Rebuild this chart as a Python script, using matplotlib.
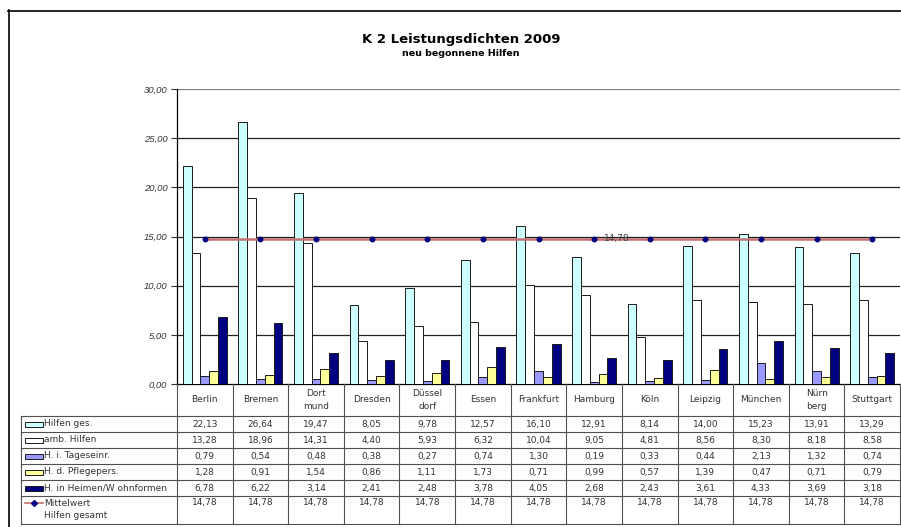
import matplotlib
matplotlib.use("Agg")
import matplotlib.pyplot as plt
import matplotlib.transforms as mtransforms
from matplotlib.patches import Rectangle
from matplotlib.lines import Line2D

# ---------------- data ----------------
categories = ["Berlin", "Bremen", "Dort\nmund", "Dresden", "Düssel\ndorf", "Essen",
              "Frankfurt", "Hamburg", "Köln", "Leipzig", "München", "Nürn\nberg", "Stuttgart"]
hilfen_ges = [22.13, 26.64, 19.47, 8.05, 9.78, 12.57, 16.10, 12.91, 8.14, 14.00, 15.23, 13.91, 13.29]
amb_hilfen = [13.28, 18.96, 14.31, 4.40, 5.93, 6.32, 10.04, 9.05, 4.81, 8.56, 8.30, 8.18, 8.58]
tageseinr = [0.79, 0.54, 0.48, 0.38, 0.27, 0.74, 1.30, 0.19, 0.33, 0.44, 2.13, 1.32, 0.74]
pflegepers = [1.28, 0.91, 1.54, 0.86, 1.11, 1.73, 0.71, 0.99, 0.57, 1.39, 0.47, 0.71, 0.79]
heime = [6.78, 6.22, 3.14, 2.41, 2.48, 3.78, 4.05, 2.68, 2.43, 3.61, 4.33, 3.69, 3.18]
mittelwert = [14.78, 14.78, 14.78, 14.78, 14.78, 14.78, 14.78, 14.78, 14.78, 14.78, 14.78, 14.78, 14.78]

series_names = ["Hilfen ges.", "amb. Hilfen", "H. i. Tageseinr.", "H. d. Pflegepers.",
                "H. in Heimen/W ohnformen"]
series_values = [hilfen_ges, amb_hilfen, tageseinr, pflegepers, heime]
series_colors = ["#CCFFFF", "#FFFFFF", "#9999FF", "#FFFF99", "#000080"]
mean_name = ["Mittelwert", "Hilfen gesamt"]
yticks = [0, 5, 10, 15, 20, 25, 30]
title = "K 2 Leistungsdichten 2009"
subtitle = "neu begonnene Hilfen"

W, H = 901, 527
fig = plt.figure(figsize=(W / 100, H / 100), dpi=100)
fig.patch.set_facecolor("white")

def fmt(v):
    return f"{v:.2f}".replace(".", ",")

# ---------------- plot area ----------------
px_left, px_right, px_top, px_bottom = 177, 900, 89, 384
ax = fig.add_axes([px_left / W, 1 - px_bottom / H, (px_right - px_left) / W,
                   (px_bottom - px_top) / H])
n = len(categories)
ax.set_xlim(0, n)
ax.set_ylim(0, 30)

bw = 1 / 6.3
gap = (1 - 5 * bw) / 2
for k, (vals, col) in enumerate(zip(series_values, series_colors)):
    xs = [i + gap + k * bw for i in range(n)]
    ax.bar(xs, vals, width=bw, align="edge", color=col, edgecolor="#1a1a1a",
           linewidth=0.7, zorder=3)

centers = [i + 0.5 for i in range(n)]
ax.plot(centers, mittelwert, color="#C87070", linewidth=1.8, zorder=4)
ax.plot(centers, mittelwert, linestyle="none", marker="o", markersize=3.2,
        color="#000080", zorder=5)
ax.text(centers[7] + 0.17, mittelwert[7], fmt(mittelwert[7]), fontsize=6.5,
        color="#404040", va="center", ha="left", zorder=6,
        family="DejaVu Sans")

for y in yticks[1:]:
    ax.axhline(y, color="#808080" if y == 30 else "#202020", linewidth=0.9, zorder=1)

ax.set_yticks(yticks)
ax.set_yticklabels([fmt(v) for v in yticks], fontsize=6.8, style="italic",
                   color="#333333", family="Liberation Sans")
ax.tick_params(axis="y", length=4, width=0.8, color="#333333", pad=3)
ax.set_xticks([])
for s in ["top", "right"]:
    ax.spines[s].set_visible(False)
ax.spines["left"].set_color("#000000")
ax.spines["bottom"].set_color("#000000")
ax.spines["left"].set_linewidth(0.9)
ax.spines["bottom"].set_linewidth(0.9)
ax.set_facecolor("none")

# ---------------- overlay (title, table, frame) ----------------
ov = fig.add_axes([0, 0, 1, 1])
ov.set_xlim(0, W)
ov.set_ylim(H, 0)
ov.axis("off")
ov.patch.set_visible(False)

# outer frame
ov.add_line(Line2D([8.5, 8.5], [10, H], color="black", linewidth=1.2))
ov.add_line(Line2D([8, W], [10.5, 10.5], color="black", linewidth=1.2))

ov.text(461, 39, title, fontsize=9.5, fontweight="bold", ha="center", va="center",
        family="DejaVu Sans", color="black")
ov.text(461, 54, subtitle, fontsize=6.8, fontweight="bold", ha="center", va="center",
        family="DejaVu Sans", color="black")

blend = mtransforms.blended_transform_factory(ax.transData, ov.transData)
lc = "#505050"
row_lines = [416, 432, 448, 464, 480, 496, 524]
tbl_left = 21
# horizontal table lines
for y in row_lines:
    ov.add_line(Line2D([tbl_left, px_right], [y, y], color=lc, linewidth=0.8))
ov.add_line(Line2D([tbl_left, tbl_left], [416, 524], color=lc, linewidth=0.8))
# vertical column lines
for i in range(n + 1):
    ov.add_line(Line2D([i, i], [384, 524], color=lc, linewidth=0.8, transform=blend))

tfont = dict(fontsize=6.5, color="#333333", family="DejaVu Sans")
for i, c in enumerate(categories):
    ov.text(centers[i], 400, c, ha="center", va="center", transform=blend,
            linespacing=1.5, **tfont)

row_centers = [424, 440, 456, 472, 488]
for r, (name, vals, col) in enumerate(zip(series_names, series_values, series_colors)):
    yc = row_centers[r]
    ov.add_patch(Rectangle((25, yc - 2.5), 18, 5, facecolor=col, edgecolor="#1a1a1a",
                           linewidth=0.7))
    ov.text(44, yc, name, ha="left", va="center", **tfont)
    for i, v in enumerate(vals):
        ov.text(centers[i], yc, fmt(v), ha="center", va="center", transform=blend, **tfont)

# mean row
ov.add_line(Line2D([25, 43], [503, 503], color="#C87070", linewidth=1.2))
ov.add_line(Line2D([34], [503], color="#000080", marker="D", markersize=3, linestyle="none"))
ov.text(44, 503, mean_name[0], ha="left", va="center", **tfont)
ov.text(44, 516, mean_name[1], ha="left", va="center", **tfont)
for i, v in enumerate(mittelwert):
    ov.text(centers[i], 503, fmt(v), ha="center", va="center", transform=blend, **tfont)

fig.savefig("out.png", dpi=100)
